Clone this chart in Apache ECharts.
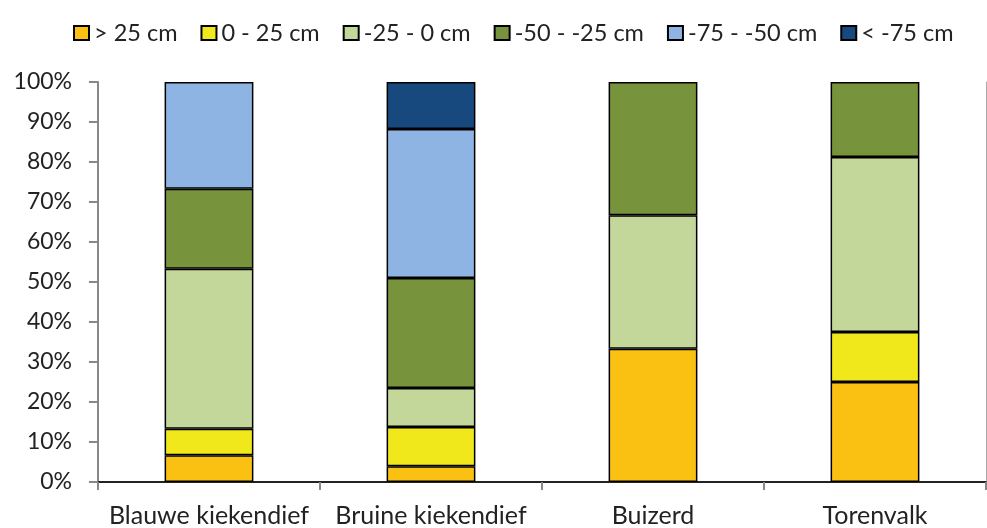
<!DOCTYPE html>
<html>
<head>
<meta charset="utf-8">
<script src="https://cdn.jsdelivr.net/npm/echarts@6/dist/echarts.min.js"></script>
<style>
  html, body { margin: 0; padding: 0; background: #fff; }
  #chart { width: 987px; height: 528px; }
</style>
</head>
<body>
<div id="chart"></div>
<script>
// categories (x axis)
const birds = ["Blauwe kiekendief", "Bruine kiekendief", "Buizerd", "Torenvalk"];
// y tick labels (0% .. 100%)
const yTicks = ["0%", "10%", "20%", "30%", "40%", "50%", "60%", "70%", "80%", "90%", "100%"];

// share per depth class, in percent
const above25 = [6.67, 3.92, 33.33, 25.0];
const zeroTo25 = [6.67, 9.8, 0, 12.5];
const minus25to0 = [40.0, 9.8, 33.33, 43.75];
const minus50to25 = [20.0, 27.45, 33.34, 18.75];
const minus75to50 = [26.66, 37.25, 0, 0];
const below75 = [0, 11.78, 0, 0];

const seriesNames = ["> 25 cm", "0 - 25 cm", "-25 - 0 cm", "-50 - -25 cm", "-75 - -50 cm", "< -75 cm"];
const seriesData = [above25, zeroTo25, minus25to0, minus50to25, minus75to50, below75];
const colors = ["#FAC012", "#F0E81A", "#C4D79B", "#77933C", "#8EB4E3", "#17497E"];

const font = "Lato";
const chart = echarts.init(document.getElementById("chart"), null, { renderer: "canvas" });

const series = seriesData.map((d, i) => ({
  name: seriesNames[i],
  type: "bar",
  stack: "total",
  barWidth: "40%",
  // empty segments are skipped so they don't draw a border line
  data: d.map((v) => (v === 0 ? "-" : v)),
  itemStyle: {
    color: colors[i],
    borderColor: "#000",
    borderWidth: 1.5,
  },
}));

chart.setOption({
  animation: false,
  backgroundColor: "#fff",
  legend: {
    top: 16,
    left: 68,
    icon: "rect",
    itemWidth: 15,
    itemHeight: 14,
    itemGap: 23,
    itemStyle: { borderColor: "#000", borderWidth: 2 },
    textStyle: { fontFamily: font, fontSize: 23.5, color: "#222" },
    data: seriesNames,
  },
  grid: {
    left: 98,
    right: 1,
    top: 82,
    bottom: 46,
    containLabel: false,
  },
  xAxis: [
    {
      type: "category",
      data: birds,
      axisLine: { lineStyle: { color: "#888", width: 2 } },
      axisTick: { show: true, length: 8, lineStyle: { color: "#888", width: 2 } },
      axisLabel: { fontFamily: font, fontSize: 25, color: "#222", margin: 21, interval: 0 },
    },
    {
      type: "category",
      position: "top",
      data: birds,
      axisLine: { lineStyle: { color: "#000", width: 1.5 } },
      axisTick: { show: false },
      axisLabel: { show: false },
    },
  ],
  yAxis: [
    {
      type: "value",
      min: 0,
      max: 100,
      interval: 10,
      axisLine: { show: true, lineStyle: { color: "#888", width: 2 } },
      axisTick: { show: true, length: 9, lineStyle: { color: "#888", width: 2 } },
      splitLine: { show: false },
      axisLabel: {
        fontFamily: font,
        fontSize: 23,
        color: "#222",
        margin: 26,
        formatter: (v) => yTicks[Math.round(v / 10)],
      },
    },
    {
      type: "value",
      position: "right",
      min: 0,
      max: 100,
      axisLine: { show: true, lineStyle: { color: "#aaa", width: 1 } },
      axisTick: { show: false },
      axisLabel: { show: false },
      splitLine: { show: false },
    },
  ],
  series: series,
});
</script>
</body>
</html>
